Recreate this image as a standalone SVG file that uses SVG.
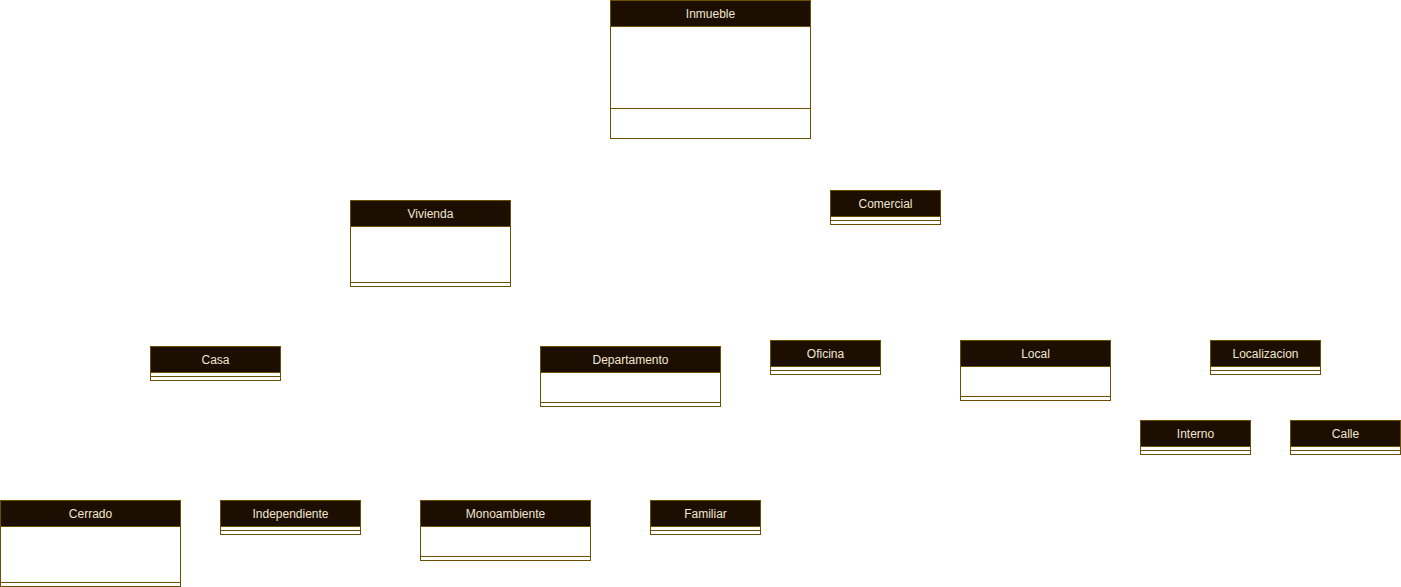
<svg xmlns="http://www.w3.org/2000/svg" width="1401" height="587" viewBox="0 0 1401 587">
<style>
.b{fill:#ffffff;stroke:#6d4f00;stroke-width:1}
.h{fill:#1c0e00;stroke:#6d4f00;stroke-width:1}
.l{stroke:#6d4f00;stroke-width:1;fill:none}
.t{font-family:"Liberation Sans",Arial,sans-serif;font-size:12px;fill:#efe6d4;text-anchor:middle}
</style>
<rect width="1401" height="587" fill="#ffffff"/>
<g id="connectors"></g>
<g id="inmueble"><rect class="b" x="610.5" y="0.5" width="200" height="138"/><rect class="h" x="610.5" y="0.5" width="200" height="26"/><line class="l" x1="610.5" y1="108.5" x2="810.5" y2="108.5"/><text class="t" x="710.5" y="18">Inmueble</text></g>
<g id="vivienda"><rect class="b" x="350.5" y="200.5" width="160" height="86"/><rect class="h" x="350.5" y="200.5" width="160" height="26"/><line class="l" x1="350.5" y1="282.5" x2="510.5" y2="282.5"/><text class="t" x="430.5" y="218">Vivienda</text></g>
<g id="comercial"><rect class="b" x="830.5" y="190.5" width="110" height="34"/><rect class="h" x="830.5" y="190.5" width="110" height="26"/><line class="l" x1="830.5" y1="220.5" x2="940.5" y2="220.5"/><text class="t" x="885.5" y="208">Comercial</text></g>
<g id="casa"><rect class="b" x="150.5" y="346.5" width="130" height="34"/><rect class="h" x="150.5" y="346.5" width="130" height="26"/><line class="l" x1="150.5" y1="376.5" x2="280.5" y2="376.5"/><text class="t" x="215.5" y="364">Casa</text></g>
<g id="departamento"><rect class="b" x="540.5" y="346.5" width="180" height="60"/><rect class="h" x="540.5" y="346.5" width="180" height="26"/><line class="l" x1="540.5" y1="402.5" x2="720.5" y2="402.5"/><text class="t" x="630.5" y="364">Departamento</text></g>
<g id="oficina"><rect class="b" x="770.5" y="340.5" width="110" height="34"/><rect class="h" x="770.5" y="340.5" width="110" height="26"/><line class="l" x1="770.5" y1="370.5" x2="880.5" y2="370.5"/><text class="t" x="825.5" y="358">Oficina</text></g>
<g id="local"><rect class="b" x="960.5" y="340.5" width="150" height="60"/><rect class="h" x="960.5" y="340.5" width="150" height="26"/><line class="l" x1="960.5" y1="396.5" x2="1110.5" y2="396.5"/><text class="t" x="1035.5" y="358">Local</text></g>
<g id="localizacion"><rect class="b" x="1210.5" y="340.5" width="110" height="34"/><rect class="h" x="1210.5" y="340.5" width="110" height="26"/><line class="l" x1="1210.5" y1="370.5" x2="1320.5" y2="370.5"/><text class="t" x="1265.5" y="358">Localizacion</text></g>
<g id="interno"><rect class="b" x="1140.5" y="420.5" width="110" height="34"/><rect class="h" x="1140.5" y="420.5" width="110" height="26"/><line class="l" x1="1140.5" y1="450.5" x2="1250.5" y2="450.5"/><text class="t" x="1195.5" y="438">Interno</text></g>
<g id="calle"><rect class="b" x="1290.5" y="420.5" width="110" height="34"/><rect class="h" x="1290.5" y="420.5" width="110" height="26"/><line class="l" x1="1290.5" y1="450.5" x2="1400.5" y2="450.5"/><text class="t" x="1345.5" y="438">Calle</text></g>
<g id="cerrado"><rect class="b" x="0.5" y="500.5" width="180" height="86"/><rect class="h" x="0.5" y="500.5" width="180" height="26"/><line class="l" x1="0.5" y1="582.5" x2="180.5" y2="582.5"/><text class="t" x="90.5" y="518">Cerrado</text></g>
<g id="independiente"><rect class="b" x="220.5" y="500.5" width="140" height="34"/><rect class="h" x="220.5" y="500.5" width="140" height="26"/><line class="l" x1="220.5" y1="530.5" x2="360.5" y2="530.5"/><text class="t" x="290.5" y="518">Independiente</text></g>
<g id="monoambiente"><rect class="b" x="420.5" y="500.5" width="170" height="60"/><rect class="h" x="420.5" y="500.5" width="170" height="26"/><line class="l" x1="420.5" y1="556.5" x2="590.5" y2="556.5"/><text class="t" x="505.5" y="518">Monoambiente</text></g>
<g id="familiar"><rect class="b" x="650.5" y="500.5" width="110" height="34"/><rect class="h" x="650.5" y="500.5" width="110" height="26"/><line class="l" x1="650.5" y1="530.5" x2="760.5" y2="530.5"/><text class="t" x="705.5" y="518">Familiar</text></g>
</svg>
